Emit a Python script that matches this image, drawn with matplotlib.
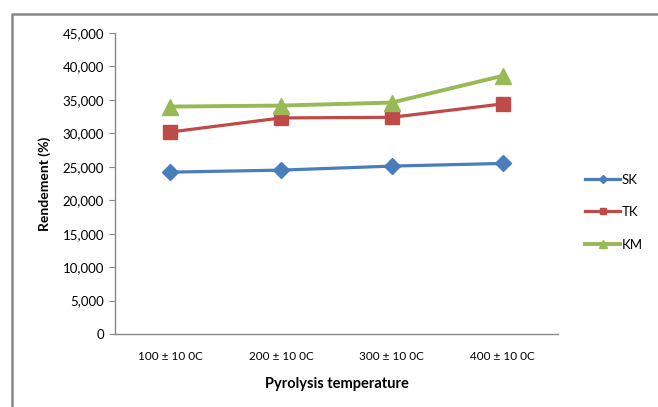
import matplotlib
matplotlib.use("Agg")
import matplotlib.pyplot as plt
from matplotlib.lines import Line2D
from matplotlib.ticker import FuncFormatter

# data
categories = ['100 ± 10 0C', '200 ± 10 0C', '300 ± 10 0C', '400 ± 10 0C']
sk = [24200, 24500, 25100, 25500]
tk = [30200, 32300, 32400, 34400]
km = [34000, 34150, 34600, 38600]

plt.rcParams['font.family'] = ['Lato', 'DejaVu Sans']

W, H = 658, 407
fig = plt.figure(figsize=(W / 100, H / 100), dpi=100)
ax = fig.add_axes([115/W, 1-334/H, 443/W, 301/H])

# outer chart frame (only top and left edges are inside the picture)
fig.lines.append(Line2D([12/W, 12/W, 1.0], [0.0, 1-14/H, 1-14/H], transform=fig.transFigure,
                        color='#888888', linewidth=1.8))

x = range(len(categories))
ax.plot(x, sk, color='#4a7ebb', lw=2.3, marker='D', ms=8, label='SK')
ax.plot(x, tk, color='#be4b48', lw=2.3, marker='s', ms=10, label='TK')
ax.plot(x, km, color='#98b954', lw=2.8, marker='^', ms=11, label='KM')

ax.set_xlim(-0.5, 3.5)
ax.set_ylim(0, 45000)
ax.set_yticks(range(0, 45001, 5000))
ax.yaxis.set_major_formatter(FuncFormatter(lambda v, p: '0' if v == 0 else '{:,.0f}'.format(v)))
ax.set_xticks(list(x))
ax.set_xticklabels(categories, fontsize=8.5)
ax.tick_params(axis='x', length=0, pad=12)
ax.tick_params(axis='y', labelsize=9.5, length=4, color='#888888', pad=4)

for s in ['top', 'right']:
    ax.spines[s].set_visible(False)
for s in ['left', 'bottom']:
    ax.spines[s].set_color('#888888')
    ax.spines[s].set_linewidth(1)

ax.set_ylabel('Rendement (%)', fontsize=10, fontweight='bold', labelpad=8)
ax.set_xlabel('Pyrolysis temperature', fontsize=10.5, fontweight='bold', labelpad=11)

leg = ax.legend(loc='center left', bbox_to_anchor=(1.035, 0.405), frameon=False,
                fontsize=9.5, handlelength=2.6, markerscale=0.5, labelspacing=1.55,
                handletextpad=0.15)

fig.savefig('out.png', dpi=100)
